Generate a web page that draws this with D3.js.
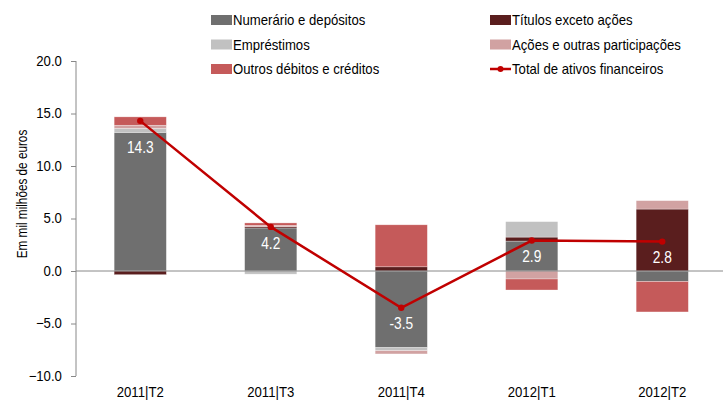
<!DOCTYPE html>
<html>
<head>
<meta charset="utf-8">
<script src="https://cdnjs.cloudflare.com/ajax/libs/d3/7.8.5/d3.min.js"></script>
<style>
body{margin:0;background:#fff;}
text{font-family:"Liberation Sans Narrow","Arial Narrow","Liberation Sans",Arial,sans-serif;fill:#000;}
</style>
</head>
<body>
<script>
var quarters=["2011|T2","2011|T3","2011|T4","2012|T1","2012|T2"]
var numerario=[13.2,4.1,-7.3,2.85,-1.0]
var titulos=[-0.35,0.12,0.4,0.38,5.9]
var emprestimos=[0.38,-0.3,-0.29,1.47,0]
var acoes=[0.3,0.12,-0.31,-0.76,0.8]
var outros=[0.8,0.24,4.0,-1.05,-2.9]
var total=[14.3,4.2,-3.5,2.9,2.8]
var yTicks=[-10,-5,0,5,10,15,20]

var names=["Numerário e depósitos","Títulos exceto ações","Empréstimos","Ações e outras participações","Outros débitos e créditos"]
var colors=["#6f6f6f","#5a1e1e","#c1c1c1","#d1a2a2","#c55a5a"]
var lineColor="#c00000"
var narrow=0.94  // fake a narrow font

var screen={width:723,height:403}
var svg=d3.select("body").append("svg")
          .attr("width",screen.width)
          .attr("height",screen.height)

var rows=quarters.map(function(q,i){
  return {q:q,s0:numerario[i],s1:titulos[i],s2:emprestimos[i],s3:acoes[i],s4:outros[i]}
})
var stack=d3.stack().keys(["s0","s1","s2","s3","s4"])
            .order(d3.stackOrderNone)
            .offset(d3.stackOffsetDiverging)
var series=stack(rows)

var x=d3.scaleBand().domain(quarters).range([75,727.5])
var barW=x.bandwidth()*0.4
var cx=function(q){return x(q)+x.bandwidth()/2}
var y=d3.scaleLinear().domain([-10,20]).range([376,61])

// y axis
var yAxis=svg.append("g")
             .attr("transform","translate(76,0)")
             .call(d3.axisLeft(y).tickValues(yTicks).tickSize(5).tickPadding(10).tickFormat(d3.format(".1f")))
yAxis.selectAll("path,line").attr("stroke","#888")
yAxis.selectAll("text").attr("font-size","14px").attr("fill","#000")
     .attr("transform","scale("+narrow+",1)")
yAxis.select(".domain").attr("d","M0,"+y(20)+"V"+y(-10))

svg.append("text")
   .attr("transform","translate(27,194) rotate(-90) scale(0.84,1)")
   .attr("text-anchor","middle")
   .attr("font-size","14px")
   .text("Em mil milhões de euros")

// bars
svg.append("g").selectAll("g")
   .data(series)
   .enter()
   .append("g")
   .attr("fill",function(d,i){return colors[i]})
   .selectAll("rect")
   .data(function(d){return d})
   .enter()
   .append("rect")
   .attr("x",function(d){return cx(d.data.q)-barW/2})
   .attr("y",function(d){return y(d[1])})
   .attr("width",barW)
   .attr("height",function(d){return y(d[0])-y(d[1])})
   .attr("stroke","#fff")
   .attr("stroke-opacity",0.5)
   .attr("stroke-width",0.6)

// zero line
svg.append("line")
   .attr("x1",76).attr("x2",screen.width)
   .attr("y1",y(0)).attr("y2",y(0))
   .attr("stroke","#888").attr("stroke-width",1)

// total line
var line=d3.line()
           .x(function(d,i){return cx(quarters[i])})
           .y(function(d){return y(d)})
svg.append("path")
   .datum(total)
   .attr("d",line)
   .attr("fill","none")
   .attr("stroke",lineColor)
   .attr("stroke-width",2.5)
svg.append("g").selectAll("circle")
   .data(total)
   .enter()
   .append("circle")
   .attr("cx",function(d,i){return cx(quarters[i])})
   .attr("cy",function(d){return y(d)})
   .attr("r",3.2)
   .attr("fill",lineColor)

// value labels, under the point (or under the top of a positive grey segment)
svg.append("g").selectAll("text")
   .data(total)
   .enter()
   .append("text")
   .attr("transform",function(d,i){
     var ly=y(d)
     if(numerario[i]>0){ly=Math.max(ly,y(numerario[i]))}
     return "translate("+cx(quarters[i])+","+(ly+21)+") scale(0.86,1)"})
   .attr("text-anchor","middle")
   .attr("font-size","16px")
   .style("fill","#fff")
   .text(function(d){return d.toFixed(1)})

// x labels
svg.append("g").selectAll("text")
   .data(quarters)
   .enter()
   .append("text")
   .attr("transform",function(d){return "translate("+cx(d)+",397) scale("+narrow+",1)"})
   .attr("text-anchor","middle")
   .attr("font-size","14px")
   .text(function(d){return d})

// legend
var legendItems=[
  {name:names[0],color:colors[0]},{name:names[1],color:colors[1]},
  {name:names[2],color:colors[2]},{name:names[3],color:colors[3]},
  {name:names[4],color:colors[4]},{name:"Total de ativos financeiros",color:lineColor,line:true}
]
var legend=svg.append("g").selectAll("g")
              .data(legendItems)
              .enter()
              .append("g")
              .attr("transform",function(d,i){return "translate("+(i%2==0?211:490)+","+(20+24.5*Math.floor(i/2))+")"})
legend.filter(function(d){return !d.line})
      .append("rect")
      .attr("x",0).attr("y",-5)
      .attr("width",21).attr("height",10)
      .attr("fill",function(d){return d.color})
var ll=legend.filter(function(d){return d.line})
ll.append("line").attr("x1",0).attr("x2",21).attr("y1",0).attr("y2",0)
  .attr("stroke",lineColor).attr("stroke-width",2.5)
ll.append("circle").attr("cx",10.5).attr("cy",0).attr("r",3).attr("fill",lineColor)
legend.append("text")
      .attr("transform","translate(22,5) scale("+narrow+",1)")
      .attr("font-size","14px")
      .text(function(d){return d.name})
</script>
</body>
</html>
